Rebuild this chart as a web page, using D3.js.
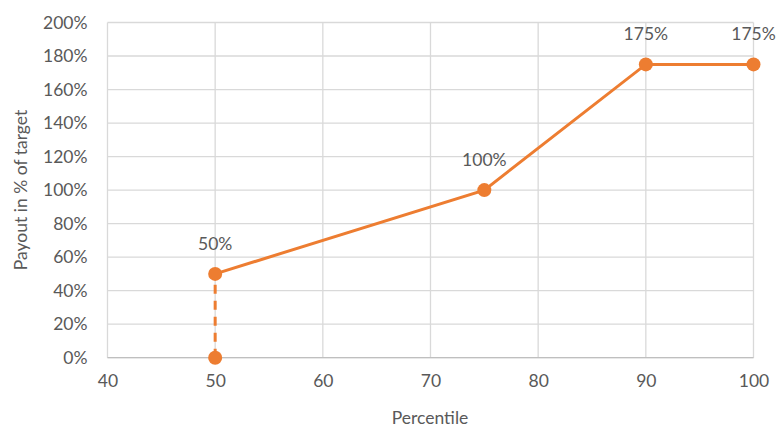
<!DOCTYPE html>
<html><head><meta charset="utf-8">
<script src="https://cdn.jsdelivr.net/npm/d3@7"></script>
<style>body{margin:0;background:#fff}svg{display:block}text{font-family:Lato,"Open Sans",sans-serif;fill:#595959}</style>
</head><body><svg id="c" width="778" height="427"></svg>
<script>
const solidX = [50, 75, 90, 100];
const solidY = [50, 100, 175, 175];
const dashX = [50, 50];
const dashY = [0, 50];
const labelX = [50, 75, 90, 100];
const labelY = [50, 100, 175, 175];
const labelText = ["50%", "100%", "175%", "175%"];
const xTicks = [40, 50, 60, 70, 80, 90, 100];
const yTicks = [0, 20, 40, 60, 80, 100, 120, 140, 160, 180, 200];

const svg = d3.select("#c");
const x = d3.scaleLinear().domain([40, 100]).range([107.5, 753.5]);
const y = d3.scaleLinear().domain([0, 200]).range([357.7, 22.5]);
const orange = "#ED7D31";
const fs = "17.5px";

svg.append("g").selectAll("line").data(yTicks).join("line")
  .attr("x1", x(40)).attr("x2", x(100)).attr("y1", d => y(d)).attr("y2", d => y(d))
  .attr("stroke", "#d9d9d9").attr("stroke-width", 1.3);
svg.append("g").selectAll("line").data(xTicks).join("line")
  .attr("y1", y(0)).attr("y2", y(200)).attr("x1", d => x(d)).attr("x2", d => x(d))
  .attr("stroke", "#d9d9d9").attr("stroke-width", 1.3);
svg.append("line").attr("x1", x(40)).attr("x2", x(100)).attr("y1", y(0)).attr("y2", y(0))
  .attr("stroke", "#bfbfbf").attr("stroke-width", 1.3);

const yAxis = d3.axisLeft(y).tickValues(yTicks).tickFormat(d => d + "%").tickSize(0).tickPadding(20);
const gy = svg.append("g").attr("transform", `translate(${x(40)},0)`).call(yAxis);
gy.select(".domain").remove();
gy.selectAll("text").style("font-size", fs).attr("fill", "#595959");
const xAxis = d3.axisBottom(x).tickValues(xTicks).tickSize(0).tickPadding(17);
const gx = svg.append("g").attr("transform", `translate(0,${y(0)})`).call(xAxis);
gx.select(".domain").remove();
gx.selectAll("text").style("font-size", fs).attr("fill", "#595959");

const line = d3.line().x(d => x(d[0])).y(d => y(d[1]));
svg.append("path").datum(dashX.map((v, i) => [v, dashY[i]])).attr("d", line)
  .attr("fill", "none").attr("stroke", orange).attr("stroke-width", 3).attr("stroke-dasharray", "9,7");
svg.append("path").datum(solidX.map((v, i) => [v, solidY[i]])).attr("d", line)
  .attr("fill", "none").attr("stroke", orange).attr("stroke-width", 3);

const pts = [[dashX[0], dashY[0]]].concat(solidX.map((v, i) => [v, solidY[i]]));
svg.append("g").selectAll("circle").data(pts).join("circle")
  .attr("cx", d => x(d[0])).attr("cy", d => y(d[1])).attr("r", 7).attr("fill", orange);

svg.append("g").selectAll("text").data(labelX).join("text")
  .attr("x", (d) => x(d)).attr("y", (d, i) => y(labelY[i]) - 24)
  .attr("text-anchor", "middle").style("font-size", fs).text((d, i) => labelText[i]);

svg.append("text").attr("x", 430).attr("y", 424).attr("text-anchor", "middle").style("font-size", fs).text("Percentile");
svg.append("text").attr("transform", "translate(27,190) rotate(-90)").attr("text-anchor", "middle").style("font-size", fs).text("Payout in % of target");
</script></body></html>
